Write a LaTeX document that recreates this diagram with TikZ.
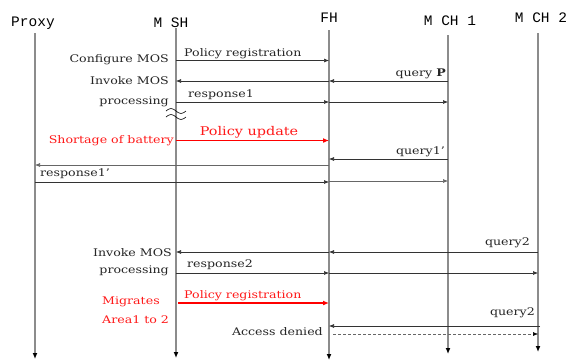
\documentclass[tikz,border=0pt]{standalone}
\usepackage{fontspec}
\setmainfont{DejaVu Serif}[FakeStretch=1.2]
\newfontfamily\headfont{Liberation Mono}
\usetikzlibrary{arrows.meta}
\begin{document}
\begin{tikzpicture}[x=1pt,y=-1pt,
  life/.style={draw=black!45, line width=1.3pt, -{Latex[length=6pt,width=5pt,color=black]}},
  msg/.style={draw=black!80, line width=0.6pt, -{Latex[length=5pt,width=4pt]}},
  dmsg/.style={draw=black!60, line width=0.5pt, densely dashed, -{Latex[length=5pt,width=4pt,color=black]}},
  redmsg/.style={draw=red, line width=1.6pt, -{Latex[length=6pt,width=5pt]}},
  lbl/.style={font=\fontsize{10.5}{12}\selectfont, inner sep=0pt, text=black!85},
  rlbl/.style={lbl, text=red!90},
  bigr/.style={font=\fontsize{12}{14}\selectfont, inner sep=0pt, text=red!90},
  head/.style={font=\headfont\fontsize{14.5}{16}\selectfont, inner sep=0pt}]
\useasboundingbox[fill=white] (0,0) rectangle (574,360);

% headers
\node[head] (hP) at (33,23) {Proxy};
\node[head] (hM) at (171,23) {M SH};
\node[head] (hF) at (329,18) {FH};
\node[head] (hC1) at (450,21) {M CH 1};
\node[head] (hC2) at (541,18) {M CH 2};

% lifelines
\coordinate (Pt) at (35,33);  \coordinate (Pb) at (35,359);
\coordinate (Mt) at (176,28); \coordinate (Mb) at (176,358);
\coordinate (Ft) at (329,30); \coordinate (Fb) at (329,360);
\coordinate (C1t) at (448,35); \coordinate (C1b) at (448,354);
\coordinate (C2t) at (538,33); \coordinate (C2b) at (538,352);
\draw[life] (Pt) -- (Pb);
\draw[life] (Mt) -- (Mb);
\draw[life] (Ft) -- (Fb);
\draw[life] (C1t) -- (C1b);
\draw[life] (C2t) -- (C2b);

% 1 Policy registration
\draw[msg] (Mt |- 0,60.5) -- (Ft |- 0,60.5);
\node[lbl, anchor=base west] (l1) at (184,56) {Policy registration};
\node[lbl, anchor=east] (c1) at (169,60) {Configure MOS};

% 2 query P
\draw[msg] (C1t |- 0,81) -- (Ft |- 0,81);
\draw[msg] (Ft |- 0,81) -- (Mt |- 0,81);
\node[lbl, anchor=base east] (l2) at (446,76) {query \textbf{P}};
\node[lbl, anchor=east] (c2) at (169,81) {Invoke MOS};
\node[lbl, anchor=east] (c3) at (169,102) {processing};

% 3 response1
\draw[msg] (Mt |- 0,102) -- (Ft |- 0,102);
\draw[msg] (Ft |- 0,102) -- (C1t |- 0,102);
\node[lbl, anchor=base west] (l3) at (188,97) {response1};

% wavy break
\draw[black, line width=0.6pt] (166,111) sin (171,108.5) cos (176,111) sin (181,113.5) cos (186,111);
\draw[black, line width=0.6pt] (166,117) sin (171,114.5) cos (176,117) sin (181,119.5) cos (186,117);

% 4 Policy update
\draw[redmsg] (Mt |- 0,140.5) -- (Ft |- 0,140.5);
\node[bigr, anchor=base] (l4) at (249,135) {Policy update};
\node[rlbl, anchor=east] (c4) at (174,141) {Shortage of battery};

% 5 query1'
\draw[msg] (C1t |- 0,159) -- (Ft |- 0,159);
\node[lbl, anchor=base east] (l5) at (445,154) {query1'};

% 6 to proxy
\draw[msg, draw=black!60] (Ft |- 0,165) -- (Pt |- 0,165);

% 7 response1'
\draw[msg] (Pt |- 0,182) -- (Ft |- 0,182);
\draw[msg, draw=black!60] (Ft |- 0,181) -- (C1t |- 0,181);
\node[lbl, anchor=base west] (l7) at (40,176) {response1'};

% 8 query2
\draw[msg] (C2t |- 0,252) -- (Ft |- 0,252);
\draw[msg] (Ft |- 0,252) -- (Mt |- 0,252);
\node[lbl, anchor=base east] (l8) at (530,245) {query2};
\node[lbl, anchor=east] (c8) at (172,253) {Invoke MOS};
\node[lbl, anchor=east] (c9) at (169,271) {processing};

% 9 response2
\draw[msg] (Mt |- 0,273) -- (Ft |- 0,273);
\draw[msg] (Ft |- 0,273) -- (C2t |- 0,273);
\node[lbl, anchor=base west] (l9) at (187,267) {response2};

% 10 Policy registration (red)
\draw[redmsg] (178,303) -- (Ft |- 0,303);
\node[rlbl, anchor=base west] (l10) at (184,298) {Policy registration};
\node[rlbl, anchor=west] (c10) at (102,302) {Migrates};
\node[rlbl, anchor=west] (c11) at (102,320) {Area1 to 2};

% 11 query2
\draw[msg] (540,326) -- (Ft |- 0,326);
\node[lbl, anchor=base east] (l11) at (535,315) {query2};

% 12 access denied
\draw[dmsg] (333,334) -- (C2t |- 0,334);
\node[lbl, anchor=east] (c12) at (323,332) {Access denied};
\end{tikzpicture}
\end{document}
